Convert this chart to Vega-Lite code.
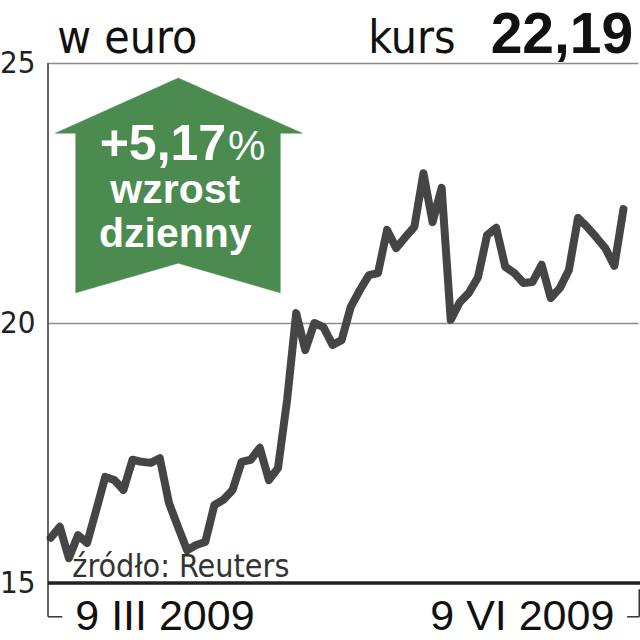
{
  "$schema": "https://vega.github.io/schema/vega-lite/v6.json",
  "width": 590,
  "height": 520,
  "autosize": {"type": "none"},
  "padding": {"left": 48, "top": 63, "right": 2, "bottom": 57},
  "background": "white",
  "config": {"view": {"stroke": null}, "font": "Liberation Sans"},
  "datasets": {
    "price": [
      {"date": "2009-03-09", "x": 0, "y": 15.87},
      {"date": "2009-03-10", "x": 1, "y": 16.08},
      {"date": "2009-03-11", "x": 2, "y": 15.48},
      {"date": "2009-03-12", "x": 3, "y": 15.92},
      {"date": "2009-03-13", "x": 4, "y": 15.77},
      {"date": "2009-03-16", "x": 5, "y": 16.40},
      {"date": "2009-03-17", "x": 6, "y": 17.04},
      {"date": "2009-03-18", "x": 7, "y": 16.98},
      {"date": "2009-03-19", "x": 8, "y": 16.79},
      {"date": "2009-03-20", "x": 9, "y": 17.37},
      {"date": "2009-03-23", "x": 10, "y": 17.33},
      {"date": "2009-03-24", "x": 11, "y": 17.31},
      {"date": "2009-03-25", "x": 12, "y": 17.40},
      {"date": "2009-03-26", "x": 13, "y": 16.54},
      {"date": "2009-03-27", "x": 14, "y": 16.08},
      {"date": "2009-03-30", "x": 15, "y": 15.63},
      {"date": "2009-03-31", "x": 16, "y": 15.73},
      {"date": "2009-04-01", "x": 17, "y": 15.79},
      {"date": "2009-04-02", "x": 18, "y": 16.50},
      {"date": "2009-04-03", "x": 19, "y": 16.60},
      {"date": "2009-04-06", "x": 20, "y": 16.79},
      {"date": "2009-04-07", "x": 21, "y": 17.33},
      {"date": "2009-04-08", "x": 22, "y": 17.37},
      {"date": "2009-04-09", "x": 23, "y": 17.60},
      {"date": "2009-04-14", "x": 24, "y": 16.98},
      {"date": "2009-04-15", "x": 25, "y": 17.21},
      {"date": "2009-04-16", "x": 26, "y": 18.52},
      {"date": "2009-04-17", "x": 27, "y": 20.19},
      {"date": "2009-04-20", "x": 28, "y": 19.48},
      {"date": "2009-04-21", "x": 29, "y": 20.00},
      {"date": "2009-04-22", "x": 30, "y": 19.92},
      {"date": "2009-04-23", "x": 31, "y": 19.58},
      {"date": "2009-04-24", "x": 32, "y": 19.67},
      {"date": "2009-04-27", "x": 33, "y": 20.31},
      {"date": "2009-04-28", "x": 34, "y": 20.63},
      {"date": "2009-04-29", "x": 35, "y": 20.92},
      {"date": "2009-04-30", "x": 36, "y": 20.96},
      {"date": "2009-05-04", "x": 37, "y": 21.79},
      {"date": "2009-05-05", "x": 38, "y": 21.44},
      {"date": "2009-05-06", "x": 39, "y": 21.65},
      {"date": "2009-05-07", "x": 40, "y": 21.85},
      {"date": "2009-05-08", "x": 41, "y": 22.88},
      {"date": "2009-05-11", "x": 42, "y": 21.94},
      {"date": "2009-05-12", "x": 43, "y": 22.60},
      {"date": "2009-05-13", "x": 44, "y": 20.06},
      {"date": "2009-05-14", "x": 45, "y": 20.40},
      {"date": "2009-05-15", "x": 46, "y": 20.58},
      {"date": "2009-05-18", "x": 47, "y": 20.88},
      {"date": "2009-05-19", "x": 48, "y": 21.69},
      {"date": "2009-05-20", "x": 49, "y": 21.83},
      {"date": "2009-05-21", "x": 50, "y": 21.08},
      {"date": "2009-05-22", "x": 51, "y": 20.96},
      {"date": "2009-05-25", "x": 52, "y": 20.77},
      {"date": "2009-05-26", "x": 53, "y": 20.79},
      {"date": "2009-05-27", "x": 54, "y": 21.12},
      {"date": "2009-05-28", "x": 55, "y": 20.48},
      {"date": "2009-05-29", "x": 56, "y": 20.67},
      {"date": "2009-06-01", "x": 57, "y": 21.02},
      {"date": "2009-06-02", "x": 58, "y": 22.02},
      {"date": "2009-06-03", "x": 59, "y": 21.85},
      {"date": "2009-06-04", "x": 60, "y": 21.65},
      {"date": "2009-06-05", "x": 61, "y": 21.44},
      {"date": "2009-06-08", "x": 62, "y": 21.10},
      {"date": "2009-06-09", "x": 63, "y": 22.19}
    ],
    "arrow": [
      {"k": 1, "x": 14.03, "y": 24.71},
      {"k": 2, "x": 27.67, "y": 23.65},
      {"k": 3, "x": 25.25, "y": 23.65},
      {"k": 4, "x": 25.25, "y": 20.58},
      {"k": 5, "x": 14.03, "y": 21.15},
      {"k": 6, "x": 2.75, "y": 20.58},
      {"k": 7, "x": 2.75, "y": 23.65},
      {"k": 8, "x": 0.5, "y": 23.65},
      {"k": 9, "x": 14.03, "y": 24.71}
    ],
    "frame": [
      {"x": -0.3, "x2": -0.3, "y": 25, "y2": 14.35},
      {"x": -0.3, "x2": 1.27, "y": 14.35, "y2": 14.35},
      {"x": 64.74, "x2": 64.74, "y": 14.88, "y2": 14.35},
      {"x": 63.4, "x2": 64.74, "y": 14.35, "y2": 14.35}
    ],
    "base": [{"x": -0.3, "x2": 64.9, "y": 15}],
    "heads": [
      {"x": 0.72, "y": 25.19, "t": "w euro"},
      {"x": 34.93, "y": 25.19, "t": "kurs"}
    ],
    "quote": [{"x": 64.08, "y": 25.19, "t": "22,19"}],
    "dates": [
      {"x": 2.7, "y": 14.1, "t": "9 III 2009"},
      {"x": 41.75, "y": 14.1, "t": "9 VI 2009"}
    ],
    "source": [{"x": 2.37, "y": 15.12, "t": "źródło: Reuters"}],
    "pct": [{"x": 19.3, "y": 23.13, "t": "+5,17"}],
    "pctsign": [{"x": 19.5, "y": 23.13, "t": "%"}],
    "words": [
      {"x": 13.7, "y": 22.31, "t": "wzrost"},
      {"x": 13.7, "y": 21.46, "t": "dzienny"}
    ]
  },
  "encoding": {
    "x": {"field": "x", "type": "quantitative", "scale": {"domain": [-0.3, 64.6], "nice": false, "zero": false}, "axis": null},
    "y": {"field": "y", "type": "quantitative", "scale": {"domain": [15, 25], "nice": false, "zero": false},
      "axis": {"values": [15, 20, 25], "grid": true, "gridColor": "#8c8c8c", "gridWidth": 1.3, "domain": false, "ticks": false,
        "labelFont": "DejaVu Sans Condensed, Roboto, sans-serif", "labelFontSize": 31, "labelFontWeight": 300, "labelColor": "#222222", "labelPadding": 13, "title": null}}
  },
  "layer": [
    {"data": {"name": "arrow"}, "mark": {"type": "line", "fill": "#4b8b50", "stroke": "#4b8b50", "strokeWidth": 0.5}, "encoding": {"order": {"field": "k", "type": "quantitative"}}},
    {"data": {"name": "price"}, "mark": {"type": "line", "color": "#454545", "strokeWidth": 8, "strokeJoin": "round", "strokeCap": "round"}},
    {"data": {"name": "frame"}, "mark": {"type": "rule", "color": "#333333", "strokeWidth": 1.5}, "encoding": {"x2": {"field": "x2"}, "y2": {"field": "y2"}}},
    {"data": {"name": "base"}, "mark": {"type": "rule", "color": "#222222", "strokeWidth": 3.5}, "encoding": {"x2": {"field": "x2"}}},
    {"data": {"name": "heads"}, "mark": {"type": "text", "align": "left", "baseline": "alphabetic", "font": "DejaVu Sans Condensed, Roboto, sans-serif", "fontSize": 46, "color": "#111111"}, "encoding": {"text": {"field": "t"}}},
    {"data": {"name": "quote"}, "mark": {"type": "text", "align": "right", "baseline": "alphabetic", "font": "Liberation Sans", "fontWeight": "bold", "fontSize": 57, "color": "#111111"}, "encoding": {"text": {"field": "t"}}},
    {"data": {"name": "dates"}, "mark": {"type": "text", "align": "left", "baseline": "alphabetic", "font": "Liberation Sans", "fontSize": 43, "color": "#111111"}, "encoding": {"text": {"field": "t"}}},
    {"data": {"name": "source"}, "mark": {"type": "text", "align": "left", "baseline": "alphabetic", "font": "DejaVu Sans Condensed, Roboto, sans-serif", "fontSize": 32, "fontWeight": 300, "color": "#333333"}, "encoding": {"text": {"field": "t"}}},
    {"data": {"name": "pct"}, "mark": {"type": "text", "align": "right", "baseline": "alphabetic", "font": "Liberation Sans", "fontWeight": "bold", "fontSize": 50, "color": "white"}, "encoding": {"text": {"field": "t"}}},
    {"data": {"name": "pctsign"}, "mark": {"type": "text", "align": "left", "baseline": "alphabetic", "font": "Liberation Sans", "fontSize": 42, "color": "white"}, "encoding": {"text": {"field": "t"}}},
    {"data": {"name": "words"}, "mark": {"type": "text", "align": "center", "baseline": "alphabetic", "font": "Liberation Sans", "fontWeight": "bold", "fontSize": 41, "color": "white"}, "encoding": {"text": {"field": "t"}}}
  ]
}
